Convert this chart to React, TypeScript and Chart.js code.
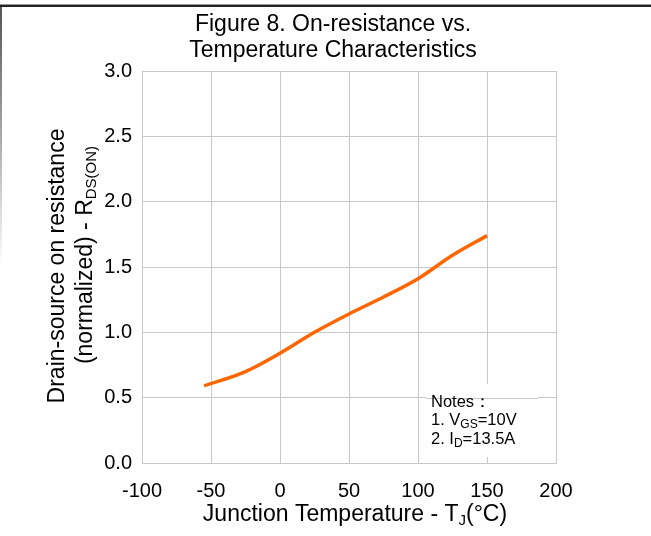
import React, { useEffect, useRef } from "react";
import { Chart, registerables } from "chart.js";

Chart.register(...registerables);

// ---- data ----
const temperatures = [-55, -25, 0, 25, 50, 75, 100, 125, 150];
const resistance = [0.59, 0.7, 0.84, 1.0, 1.14, 1.27, 1.41, 1.59, 1.74];
const xTickValues = [-100, -50, 0, 50, 100, 150, 200];
const yTickValues = [0, 0.5, 1.0, 1.5, 2.0, 2.5, 3.0];
const titleLines = ["Figure 8. On-resistance vs.", "Temperature Characteristics"];
const yTitleLine1 = [{ t: "Drain-source on resistance", sub: false }];
const yTitleLine2 = [
  { t: "(normalized) - R", sub: false },
  { t: "DS(ON)", sub: true },
];
const xTitleRuns = [
  { t: "Junction Temperature - T", sub: false },
  { t: "J", sub: true },
  { t: "(°C)", sub: false },
];
const noteLines = [
  [{ t: "Notes：", sub: false }],
  [
    { t: "1. V", sub: false },
    { t: "GS", sub: true },
    { t: "=10V", sub: false },
  ],
  [
    { t: "2. I", sub: false },
    { t: "D", sub: true },
    { t: "=13.5A", sub: false },
  ],
];

const FONT = "'Liberation Sans', Arial, Helvetica, sans-serif";
const GRID = "#c8c8c8";

type Run = { t: string; sub: boolean };

function drawRuns(
  ctx: CanvasRenderingContext2D,
  runs: Run[],
  x: number,
  y: number,
  size: number,
  subSize: number,
  subShift: number,
  align: "center" | "left"
) {
  const widths = runs.map((r) => {
    ctx.font = `${r.sub ? subSize : size}px ${FONT}`;
    return ctx.measureText(r.t).width;
  });
  const total = widths.reduce((a, b) => a + b, 0);
  let cx = align === "center" ? x - total / 2 : x;
  ctx.textAlign = "left";
  ctx.textBaseline = "alphabetic";
  runs.forEach((r, i) => {
    ctx.font = `${r.sub ? subSize : size}px ${FONT}`;
    ctx.fillText(r.t, cx, r.sub ? y + subShift : y);
    cx += widths[i];
  });
}

const textPlugin = {
  id: "textPlugin",
  afterDraw(chart: any) {
    const ctx: CanvasRenderingContext2D = chart.ctx;
    const xs = chart.scales.x;
    const ys = chart.scales.y;
    ctx.save();
    ctx.fillStyle = "#000";

    // title
    ctx.font = `23px ${FONT}`;
    ctx.textAlign = "center";
    ctx.textBaseline = "alphabetic";
    ctx.fillText(titleLines[0], 333, 31);
    ctx.fillText(titleLines[1], 333, 57);

    // x axis title
    drawRuns(ctx, xTitleRuns, 355, 521, 23, 15, 4, "center");

    // y axis title (rotated)
    ctx.save();
    ctx.translate(64, 266);
    ctx.rotate(-Math.PI / 2);
    drawRuns(ctx, yTitleLine1, 0, 0, 23, 15, 4, "center");
    ctx.restore();
    ctx.save();
    ctx.translate(92, 255);
    ctx.rotate(-Math.PI / 2);
    drawRuns(ctx, yTitleLine2, 0, 0, 23, 15, 4, "center");
    ctx.restore();

    // notes box (white, covers grid)
    ctx.fillStyle = "#fff";
    ctx.fillRect(426, 384, 112, 73);
    // the 0.5 gridline shows through
    const y05 = Math.round(ys.getPixelForValue(0.5)) + 0.5;
    ctx.strokeStyle = GRID;
    ctx.lineWidth = 1;
    ctx.beginPath();
    ctx.moveTo(426, y05);
    ctx.lineTo(538, y05);
    ctx.stroke();
    ctx.fillStyle = "#000";
    const baselines = [407, 425, 443.5];
    noteLines.forEach((runs, i) => {
      drawRuns(ctx, runs, 431, baselines[i], 16.5, 12, 3, "left");
    });
    void xs;
    ctx.restore();
  },
};

export default function App() {
  const ref = useRef<HTMLCanvasElement | null>(null);
  useEffect(() => {
    if (!ref.current) return;
    const chart = new Chart(ref.current, {
      type: "line",
      data: {
        datasets: [
          {
            data: temperatures.map((t, i) => ({ x: t, y: resistance[i] })),
            borderColor: "#ff6600",
            borderWidth: 3.5,
            pointRadius: 0,
            fill: false,
            cubicInterpolationMode: "monotone",
          },
        ],
      },
      options: {
        animation: false,
        responsive: false,
        maintainAspectRatio: false,
        layout: { padding: { left: 92, right: 95, top: 71, bottom: 33 } },
        plugins: {
          legend: { display: false },
          tooltip: { enabled: false },
          title: { display: false },
        },
        scales: {
          x: {
            type: "linear",
            min: xTickValues[0],
            max: xTickValues[xTickValues.length - 1],
            afterBuildTicks: (scale: any) => {
              scale.ticks = xTickValues.map((v) => ({ value: v }));
            },
            afterFit: (scale: any) => {
              scale.height = 40;
            },
            ticks: {
              color: "#000",
              font: { family: FONT, size: 20 },
              padding: 16,
              maxRotation: 0,
              callback: (v: any) => String(v),
            },
            grid: { color: GRID, drawTicks: false, lineWidth: 1 },
            border: { color: GRID },
          },
          y: {
            type: "linear",
            min: yTickValues[0],
            max: yTickValues[yTickValues.length - 1],
            afterBuildTicks: (scale: any) => {
              scale.ticks = yTickValues.map((v) => ({ value: v }));
            },
            afterFit: (scale: any) => {
              scale.width = 50;
            },
            ticks: {
              color: "#000",
              font: { family: FONT, size: 20 },
              padding: 10,
              callback: (v: any) => Number(v).toFixed(1),
            },
            grid: { color: GRID, drawTicks: false, lineWidth: 1 },
            border: { color: GRID },
          },
        },
      },
      plugins: [textPlugin],
    } as any);
    return () => chart.destroy();
  }, []);

  return (
    <div
      style={{
        position: "absolute",
        left: 0,
        top: 0,
        width: 651,
        height: 536,
        background: "#fff",
        overflow: "hidden",
      }}
    >
      <canvas ref={ref} width={651} height={536} style={{ display: "block" }} />
      <div
        style={{
          position: "absolute",
          left: 0,
          top: 4,
          width: 651,
          height: 1,
          background: "#999",
        }}
      />
      <div
        style={{
          position: "absolute",
          left: 0,
          top: 5,
          width: 651,
          height: 2,
          background: "#222",
        }}
      />
      <div
        style={{
          position: "absolute",
          left: 0,
          top: 7,
          width: 2,
          height: 260,
          background: "linear-gradient(#555, rgba(255,255,255,0))",
        }}
      />
    </div>
  );
}
